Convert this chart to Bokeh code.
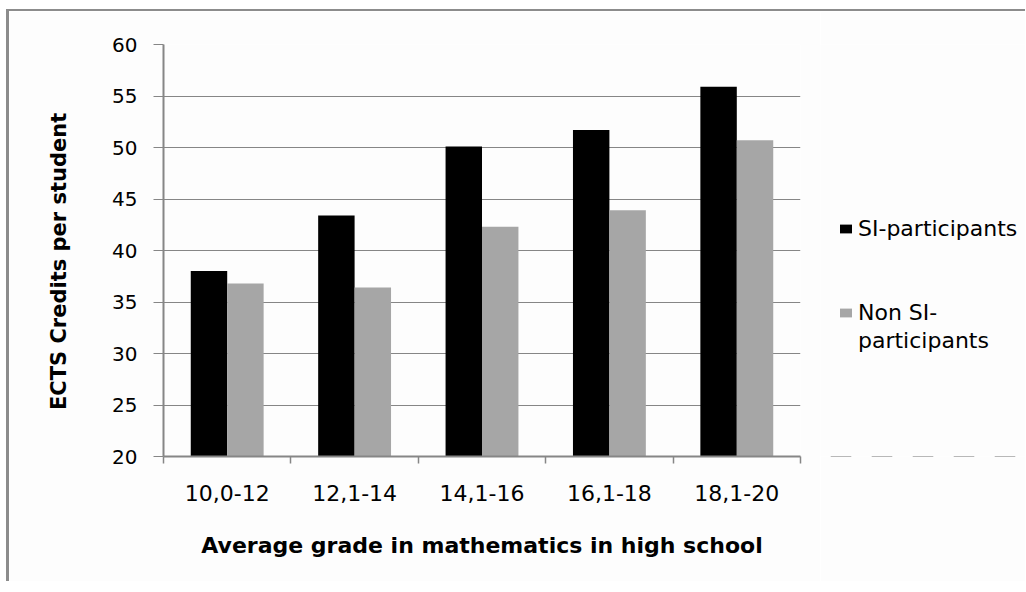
from bokeh.plotting import figure
from bokeh.layouts import row
from bokeh.models import (FactorRange, Range1d, LinearAxis, CategoricalAxis, FixedTicker,
                          ColumnDataSource, Legend, LegendItem, CustomJSTickFormatter)
from bokeh.transform import dodge
from bokeh.embed import file_html
from bokeh.resources import INLINE

# ---- data ----
categories = ["10,0-12", "12,1-14", "14,1-16", "16,1-18", "18,1-20"]
si_participants = [38.0, 43.4, 50.1, 51.7, 55.9]
non_si_participants = [36.8, 36.4, 42.3, 43.9, 50.7]
y_ticks = [20, 25, 30, 35, 40, 45, 50, 55, 60]
legend_labels = ["SI-participants", "Non SI-", "participants"]
x_title = "Average grade in mathematics in high school"
y_title = "ECTS Credits per student"

FONT = "DejaVu Sans"
GRID = "#868686"
BG = "#fdfdfd"
SI_COLOR = "black"
NON_COLOR = "#a6a6a6"

source = ColumnDataSource(dict(cat=categories, si=si_participants, non=non_si_participants))

p = figure(x_range=FactorRange(*categories), y_range=Range1d(y_ticks[0], y_ticks[-1]),
           width=811, height=570, output_backend="svg", toolbar_location=None,
           x_axis_location=None, y_axis_location="left",
           min_border_left=154, min_border_top=33, min_border_right=20, min_border_bottom=125)
p.margin = 0
p.background_fill_color = BG
p.border_fill_color = BG
p.outline_line_color = None

for g in p.xgrid:
    g.grid_line_color = None
p.ygrid.ticker = FixedTicker(ticks=y_ticks)
p.ygrid.grid_line_color = GRID
p.ygrid.grid_line_width = 1

# y axis
ya = p.yaxis[0]
ya.ticker = FixedTicker(ticks=y_ticks)
ya.axis_line_color = GRID
ya.axis_line_width = 2
ya.major_tick_line_color = GRID
ya.major_tick_in = 0
ya.major_tick_out = 10
ya.minor_tick_line_color = None
ya.major_label_standoff = 16
ya.major_label_text_font = FONT
ya.major_label_text_font_size = "20px"
ya.major_label_text_color = "black"
ya.axis_label = y_title + "\u00a0\u00a0\u00a0"
ya.axis_label_text_font = FONT
ya.axis_label_text_font_size = "21px"
ya.axis_label_text_font_style = "bold"
ya.axis_label_text_color = "black"
ya.axis_label_standoff = 38

# x axis: ticks at category boundaries (synthetic coordinates) + category labels
tick_axis = LinearAxis(ticker=FixedTicker(ticks=list(range(len(categories) + 1))),
                       formatter=CustomJSTickFormatter(code="return ''"),
                       major_label_standoff=0, major_tick_in=0, major_tick_out=7,
                       major_tick_line_color=GRID, major_tick_line_width=1.5,
                       axis_line_color=GRID, axis_line_width=2,
                       minor_tick_line_color=None)
p.add_layout(tick_axis, "below")

cat_axis = CategoricalAxis(axis_line_color=None, major_tick_line_color=None,
                           major_tick_in=0, major_tick_out=0, major_label_standoff=21,
                           major_label_text_font=FONT, major_label_text_font_size="22px",
                           major_label_text_color="black",
                           axis_label=x_title, axis_label_text_font=FONT,
                           axis_label_text_font_style="bold", axis_label_text_font_size="22px",
                           axis_label_text_color="black", axis_label_standoff=29)
p.add_layout(cat_axis, "below")

p.vbar(x=dodge("cat", -0.143, range=p.x_range), top="si", width=0.286,
       source=source, fill_color=SI_COLOR, line_color=None)
p.vbar(x=dodge("cat", 0.143, range=p.x_range), top="non", width=0.286,
       source=source, fill_color=NON_COLOR, line_color=None)

# ---- legend panel (separate canvas to the right of the plot) ----
# its renderers use the same data but the view range keeps the bars far out of sight;
# they only provide the legend swatches
q = figure(width=205, height=570, output_backend="svg", toolbar_location=None,
           x_range=FactorRange(*categories), y_range=Range1d(1000, 1001),
           x_axis_location=None, y_axis_location=None, min_border=0)
q.margin = 0
q.background_fill_color = BG
q.border_fill_color = BG
q.outline_line_color = None
q.grid.visible = False
k1 = q.vbar(x="cat", top="si", width=0.5, source=source, fill_color=SI_COLOR, line_color=None)
k2 = q.vbar(x="cat", top="non", width=0.5, source=source, fill_color=NON_COLOR, line_color=None)

legend = Legend(items=[LegendItem(label=legend_labels[0], renderers=[k1]),
                       LegendItem(label=" ", renderers=[]),
                       LegendItem(label=" ", renderers=[]),
                       LegendItem(label=legend_labels[1], renderers=[k2]),
                       LegendItem(label=legend_labels[2], renderers=[])],
                location=(18, 102), padding=0, margin=0, spacing=0,
                border_line_color=None, background_fill_alpha=0,
                label_standoff=5, glyph_width=15, glyph_height=11, label_height=28,
                label_text_font=FONT, label_text_font_size="22px", label_text_color="black")
q.add_layout(legend)

layout = row(p, q, spacing=0)
layout.margin = (9, 0, 0, 6)
layout.styles = {"border-left": "3px solid #8c8c8c", "border-top": "2px solid #8c8c8c"}

open("out.html", "w").write(file_html(layout, INLINE))
